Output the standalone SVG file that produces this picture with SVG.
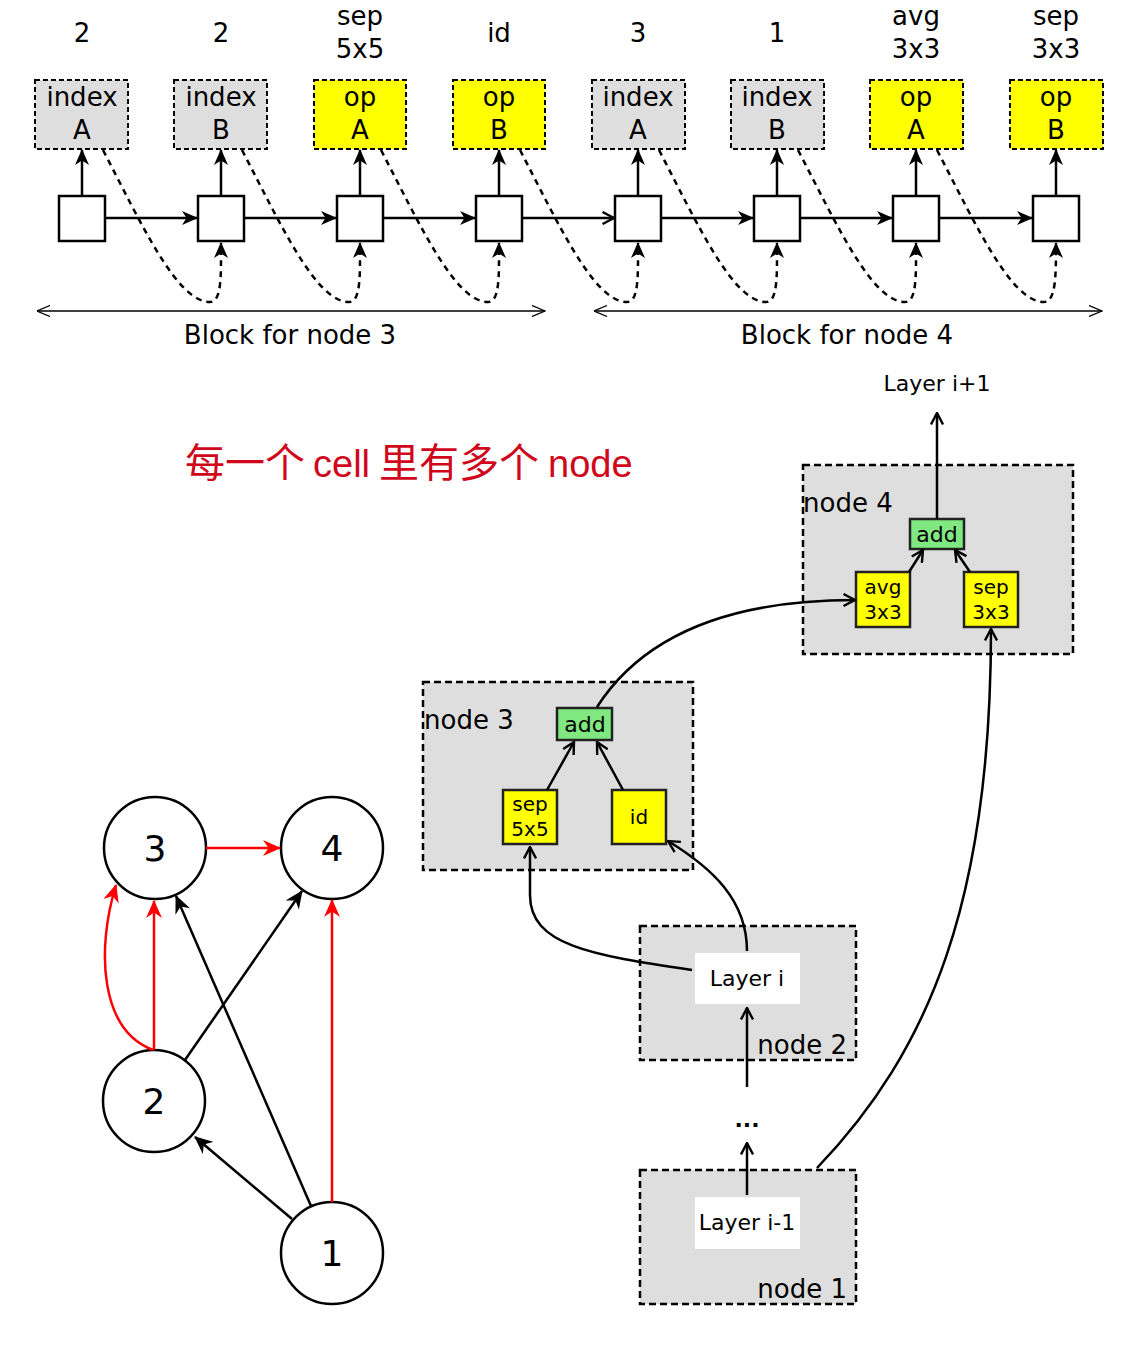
<svg xmlns="http://www.w3.org/2000/svg" width="1148" height="1354" viewBox="0 0 1148 1354">
<defs>
<style>
text{font-family:"DejaVu Sans","Liberation Sans",sans-serif;fill:#000}
.t25{font-size:26px;text-anchor:middle}
.t26{font-size:26px}
.t22{font-size:22px;text-anchor:middle}
.t20{font-size:20px;text-anchor:middle}
.t36{font-size:36px;text-anchor:middle}
.ib{fill:#dedede;stroke:#000;stroke-width:2;stroke-dasharray:5,3}
.ob{fill:#ffff00;stroke:#000;stroke-width:2;stroke-dasharray:5,3}
.sq{fill:#fff;stroke:#000;stroke-width:2.5}
.ln{fill:none;stroke:#000;stroke-width:2.5}
.dl{fill:none;stroke:#000;stroke-width:2.5;stroke-dasharray:6,5}
.thin{fill:none;stroke:#000;stroke-width:1.3}
.nb{fill:#dedede;stroke:#000;stroke-width:2.5;stroke-dasharray:7,4}
.yb{fill:#ffff00;stroke:#222;stroke-width:2.5}
.gb{fill:#80e880;stroke:#222;stroke-width:2.5}
.wb{fill:#fff;stroke:none}
.cir{fill:#fff;stroke:#000;stroke-width:2.5}
.red{fill:none;stroke:#ff0000;stroke-width:2.5}
.title{font-family:"Liberation Sans","Noto Sans CJK SC",sans-serif;font-size:40px;fill:#d0071b}
</style>
<marker id="fa" viewBox="0 0 16 14" refX="15" refY="7" markerWidth="16" markerHeight="14" markerUnits="userSpaceOnUse" orient="auto"><path d="M0,0 L16,7 L0,14 L4.5,7 z" fill="#000"/></marker>
<marker id="oa" viewBox="0 0 14 14" refX="12.5" refY="7" markerWidth="14" markerHeight="14" markerUnits="userSpaceOnUse" orient="auto"><path d="M1,1 L12.5,7 L1,13" fill="none" stroke="#000" stroke-width="2.4"/></marker>
<marker id="ta" viewBox="0 0 14 12" refX="13.5" refY="6" markerWidth="14" markerHeight="12" markerUnits="userSpaceOnUse" orient="auto-start-reverse"><path d="M0.5,0.5 L13.5,6 L0.5,11.5" fill="none" stroke="#000" stroke-width="1.3"/></marker>
<marker id="ka" viewBox="0 0 18 16" refX="17" refY="8" markerWidth="18" markerHeight="16" markerUnits="userSpaceOnUse" orient="auto"><path d="M0,0 L18,8 L0,16 L5.5,8 z" fill="#000"/></marker>
<marker id="ra" viewBox="0 0 18 16" refX="17" refY="8" markerWidth="18" markerHeight="16" markerUnits="userSpaceOnUse" orient="auto"><path d="M0,0 L18,8 L0,16 L5.5,8 z" fill="#ff0000"/></marker>
</defs>

<!-- top labels -->
<g id="labels-top">
<text class="t25" x="82" y="42">2</text>
<text class="t25" x="221" y="42">2</text>
<text class="t25" x="360" y="25">sep</text>
<text class="t25" x="360" y="58">5x5</text>
<text class="t25" x="499" y="42">id</text>
<text class="t25" x="638" y="42">3</text>
<text class="t25" x="777" y="42">1</text>
<text class="t25" x="916" y="25">avg</text>
<text class="t25" x="916" y="58">3x3</text>
<text class="t25" x="1056" y="25">sep</text>
<text class="t25" x="1056" y="58">3x3</text>
</g>

<!-- top boxes -->
<g id="box1"><rect class="ib" x="35" y="80" width="93" height="69"/><text class="t25" x="82" y="106">index</text><text class="t25" x="82" y="139">A</text></g>
<g id="box2"><rect class="ib" x="174" y="80" width="93" height="69"/><text class="t25" x="221" y="106">index</text><text class="t25" x="221" y="139">B</text></g>
<g id="box3"><rect class="ob" x="314" y="80" width="92" height="69"/><text class="t25" x="360" y="106">op</text><text class="t25" x="360" y="139">A</text></g>
<g id="box4"><rect class="ob" x="453" y="80" width="92" height="69"/><text class="t25" x="499" y="106">op</text><text class="t25" x="499" y="139">B</text></g>
<g id="box5"><rect class="ib" x="592" y="80" width="93" height="69"/><text class="t25" x="638" y="106">index</text><text class="t25" x="638" y="139">A</text></g>
<g id="box6"><rect class="ib" x="731" y="80" width="93" height="69"/><text class="t25" x="777" y="106">index</text><text class="t25" x="777" y="139">B</text></g>
<g id="box7"><rect class="ob" x="870" y="80" width="93" height="69"/><text class="t25" x="916" y="106">op</text><text class="t25" x="916" y="139">A</text></g>
<g id="box8"><rect class="ob" x="1010" y="80" width="93" height="69"/><text class="t25" x="1056" y="106">op</text><text class="t25" x="1056" y="139">B</text></g>

<!-- squares -->
<g id="sq1"><rect class="sq" x="59" y="196" width="46" height="45"/></g>
<g id="sq2"><rect class="sq" x="198" y="196" width="46" height="45"/></g>
<g id="sq3"><rect class="sq" x="337" y="196" width="46" height="45"/></g>
<g id="sq4"><rect class="sq" x="476" y="196" width="46" height="45"/></g>
<g id="sq5"><rect class="sq" x="615" y="196" width="46" height="45"/></g>
<g id="sq6"><rect class="sq" x="754" y="196" width="46" height="45"/></g>
<g id="sq7"><rect class="sq" x="893" y="196" width="46" height="45"/></g>
<g id="sq8"><rect class="sq" x="1033" y="196" width="46" height="45"/></g>

<g id="block-labels">
<text class="t25" x="290" y="344">Block for node 3</text>
<text class="t25" x="847" y="344">Block for node 4</text>
</g>

<!-- title -->
<g id="title"><text class="title" y="477"><tspan x="185">每一个</tspan><tspan x="313" font-size="38">cell</tspan><tspan x="379">里有多个</tspan><tspan x="548" font-size="38">node</tspan></text></g>

<!-- right diagram nodes -->
<g id="node4"><rect class="nb" x="803" y="465" width="270" height="189"/><text class="t26" x="803" y="512">node 4</text></g>
<g id="add4"><rect class="gb" x="910" y="519" width="54" height="30"/><text class="t22" x="937" y="542">add</text></g>
<g id="avg33"><rect class="yb" x="856" y="572" width="54" height="55"/><text class="t20" x="883" y="594">avg</text><text class="t20" x="883" y="619">3x3</text></g>
<g id="sep33"><rect class="yb" x="964" y="572" width="54" height="55"/><text class="t20" x="991" y="594">sep</text><text class="t20" x="991" y="619">3x3</text></g>
<g id="layer-ip1"><text class="t22" x="937" y="391">Layer i+1</text></g>

<g id="node3"><rect class="nb" x="423" y="682" width="270" height="188"/><text class="t26" x="424" y="729">node 3</text></g>
<g id="add3"><rect class="gb" x="557" y="708" width="55" height="32"/><text class="t22" x="585" y="732">add</text></g>
<g id="sep55"><rect class="yb" x="503" y="790" width="54" height="54"/><text class="t20" x="530" y="811">sep</text><text class="t20" x="530" y="836">5x5</text></g>
<g id="id3"><rect class="yb" x="612" y="790" width="54" height="54"/><text class="t20" x="639" y="824">id</text></g>

<g id="node2"><rect class="nb" x="640" y="926" width="216" height="134"/><rect class="wb" x="695" y="953" width="105" height="51"/><text class="t22" x="747" y="986">Layer i</text><text class="t26" x="847" y="1054" text-anchor="end">node 2</text></g>
<g id="node1"><rect class="nb" x="640" y="1170" width="216" height="134"/><rect class="wb" x="695" y="1197" width="105" height="52"/><text class="t22" x="747" y="1230">Layer i-1</text><text class="t26" x="847" y="1298" text-anchor="end">node 1</text></g>
<g id="dots"><text class="t22" x="747" y="1127" font-weight="bold">...</text></g>

<!-- left graph -->
<g id="c3"><circle class="cir" cx="155" cy="848" r="51"/><text class="t36" x="155" y="861">3</text></g>
<g id="c4"><circle class="cir" cx="332" cy="848" r="51"/><text class="t36" x="332" y="861">4</text></g>
<g id="c2"><circle class="cir" cx="154" cy="1101" r="51"/><text class="t36" x="154" y="1114">2</text></g>
<g id="c1"><circle class="cir" cx="332" cy="1253" r="51"/><text class="t36" x="332" y="1266">1</text></g>

<!-- connectors -->
<g id="connectors">
<path class="ln" d="M105,218 L197,218" marker-end="url(#fa)"/>
<path class="ln" d="M244,218 L336,218" marker-end="url(#fa)"/>
<path class="ln" d="M383,218 L475,218" marker-end="url(#fa)"/>
<path class="ln" d="M522,218 L614,218" marker-end="url(#oa)"/>
<path class="ln" d="M661,218 L753,218" marker-end="url(#fa)"/>
<path class="ln" d="M800,218 L892,218" marker-end="url(#fa)"/>
<path class="ln" d="M939,218 L1032,218" marker-end="url(#fa)"/>
<path class="ln" d="M82,196 L82,150" marker-end="url(#fa)"/>
<path class="ln" d="M221,196 L221,150" marker-end="url(#fa)"/>
<path class="ln" d="M360,196 L360,150" marker-end="url(#fa)"/>
<path class="ln" d="M499,196 L499,150" marker-end="url(#fa)"/>
<path class="ln" d="M638,196 L638,150" marker-end="url(#fa)"/>
<path class="ln" d="M777,196 L777,150" marker-end="url(#fa)"/>
<path class="ln" d="M916,196 L916,150" marker-end="url(#fa)"/>
<path class="ln" d="M1056,196 L1056,150" marker-end="url(#fa)"/>
<path class="dl" d="M103,150 C142,225 177,302 210,302 C222,302 221,275 221,243" marker-end="url(#fa)"/>
<path class="dl" d="M242,150 C281,225 316,302 349,302 C361,302 360,275 360,243" marker-end="url(#fa)"/>
<path class="dl" d="M381,150 C420,225 455,302 488,302 C500,302 499,275 499,243" marker-end="url(#fa)"/>
<path class="dl" d="M520,150 C559,225 594,302 627,302 C639,302 638,275 638,243" marker-end="url(#fa)"/>
<path class="dl" d="M659,150 C698,225 733,302 766,302 C778,302 777,275 777,243" marker-end="url(#fa)"/>
<path class="dl" d="M798,150 C837,225 872,302 905,302 C917,302 916,275 916,243" marker-end="url(#fa)"/>
<path class="dl" d="M937,150 C976,225 1011,302 1044,302 C1056,302 1056,275 1056,243" marker-end="url(#fa)"/>
<path class="thin" d="M37,311 L545,311" marker-start="url(#ta)" marker-end="url(#ta)"/>
<path class="thin" d="M594,311 L1102,311" marker-start="url(#ta)" marker-end="url(#ta)"/>
<path class="ln" d="M937,519 L937,413" marker-end="url(#oa)"/>
<path class="ln" d="M909,572 L923,550" marker-end="url(#oa)"/>
<path class="ln" d="M970,572 L955,550" marker-end="url(#oa)"/>
<path class="ln" d="M547,790 L574,742" marker-end="url(#oa)"/>
<path class="ln" d="M623,790 L597,742" marker-end="url(#oa)"/>
<path class="ln" d="M597,707 C640,640 720,600 855,600" marker-end="url(#oa)"/>
<path class="ln" d="M692,970 C590,955 530,945 530,895 L530,847" marker-end="url(#oa)"/>
<path class="ln" d="M747,951 C747,900 712,868 668,841" marker-end="url(#oa)"/>
<path class="ln" d="M817,1168 C930,1050 991,900 991,629" marker-end="url(#oa)"/>
<path class="ln" d="M747,1087 L747,1008" marker-end="url(#oa)"/>
<path class="ln" d="M747,1195 L747,1143" marker-end="url(#oa)"/>
<path class="red" d="M206,848 L280,848" marker-end="url(#ra)"/>
<path class="red" d="M154,1050 L154,901" marker-end="url(#ra)"/>
<path class="red" d="M153,1050 C100,1030 96,950 116,885" marker-end="url(#ra)"/>
<path class="red" d="M332,1202 L332,900" marker-end="url(#ra)"/>
<path class="ln" d="M185,1060 L302,891" marker-end="url(#ka)"/>
<path class="ln" d="M311,1206 L176,896" marker-end="url(#ka)"/>
<path class="ln" d="M292,1219 L195,1137" marker-end="url(#ka)"/>
</g>
</svg>
